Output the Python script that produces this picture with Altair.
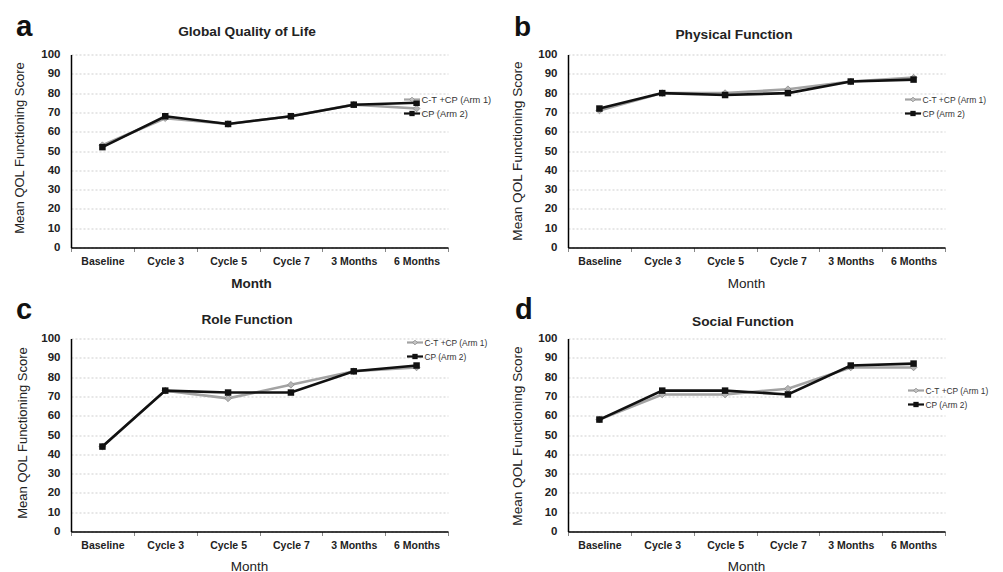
import altair as alt
import pandas as pd

# ---------------- data ----------------
months = ["Baseline", "Cycle 3", "Cycle 5", "Cycle 7", "3 Months", "6 Months"]
series_names = ["C-T +CP (Arm 1)", "CP (Arm 2)"]
panel_titles = ["Global Quality of Life", "Physical Function", "Role Function", "Social Function"]
panel_letters = ["a", "b", "c", "d"]
y_ticks = [0, 10, 20, 30, 40, 50, 60, 70, 80, 90, 100]

gql_arm1 = [53, 67, 64, 68, 74, 72]
gql_arm2 = [52, 68, 64, 68, 74, 75]
pf_arm1 = [71, 80, 80, 82, 86, 88]
pf_arm2 = [72, 80, 79, 80, 86, 87]
rf_arm1 = [44, 73, 69, 76, 83, 85]
rf_arm2 = [44, 73, 72, 72, 83, 86]
sf_arm1 = [58, 71, 71, 74, 85, 85]
sf_arm2 = [58, 73, 73, 71, 86, 87]

# ---------------- styling / layout ----------------
FONT = "Liberation Sans"
W, H = 377, 193
GREY = "#a3a3a3"
BLACK = "#111111"

layout = [
    dict(lx=-55, ly=-19, ls=29.5, tx=176, ty=-19, yx=-52, yy=93, ys=13.0,
         xx=180, xy=40, xw="bold", gx=333, gy=[45, 59], gs=9.3),
    dict(lx=-54, ly=-19, ls=28, tx=166, ty=-16, yx=-51, yy=96, ys=13.6,
         xx=178, xy=40, xw="normal", gx=337, gy=[45, 59], gs=8.5),
    dict(lx=-55, ly=-20, ls=29, tx=176, ty=-15, yx=-49, yy=94, ys=13.0,
         xx=178, xy=39, xw="normal", gx=336, gy=[4, 18], gs=8.4),
    dict(lx=-53, ly=-20, ls=29, tx=175, ty=-13, yx=-51, yy=97, ys=13.6,
         xx=178, xy=39, xw="normal", gx=340, gy=[52, 66], gs=8.4),
]


def one(text):
    return pd.DataFrame({"t": [text]})


def panel(i, arm1, arm2):
    L = layout[i]
    df = pd.DataFrame({
        "Month": months * 2,
        "Score": arm1 + arm2,
        "Series": [series_names[0]] * len(months) + [series_names[1]] * len(months),
    })
    x = alt.X(
        "Month:N",
        sort=months,
        scale=alt.Scale(type="band", domain=months, paddingInner=0, paddingOuter=0),
        axis=alt.Axis(
            title="Month", titleX=L["xx"], titleY=L["xy"], titleAlign="center",
            titleBaseline="alphabetic", titleFontWeight=L["xw"], titleFontSize=13.5,
            titleColor="#222", labelAngle=0, labelFontWeight="bold", labelFontSize=10.5,
            labelColor="#222", labelBaseline="alphabetic", labelPadding=13, tickSize=4,
            tickBand="extent", tickColor="#888", grid=False, domainColor="black",
            domainWidth=1.5,
        ),
    )
    y = alt.Y(
        "Score:Q",
        scale=alt.Scale(domain=[0, 100], nice=False),
        axis=alt.Axis(
            values=y_ticks, title="Mean QOL Functioning Score", titleX=L["yx"],
            titleY=L["yy"], titleAngle=270, titleAlign="center", titleBaseline="middle",
            titleFontWeight="normal", titleFontSize=L["ys"], titleColor="#222",
            labelFontWeight="bold", labelFontSize=11.5, labelColor="#222",
            labelPadding=11, ticks=False, grid=True, gridColor="#cfcfcf",
            gridDash=[2, 2], domainColor="black", domainWidth=1.5,
        ),
    )
    base = alt.Chart(df).encode(x=x, y=y)
    s1 = base.transform_filter(alt.datum.Series == series_names[0])
    s2 = base.transform_filter(alt.datum.Series == series_names[1])
    layers = [
        s1.mark_line(color=GREY, strokeWidth=2.6),
        s1.mark_point(shape="diamond", filled=True, size=45, color="#b5b5b5",
                      stroke="#8a8a8a", strokeWidth=0.8, opacity=1),
        s2.mark_line(color=BLACK, strokeWidth=2.6),
        s2.mark_point(shape="square", filled=True, size=42, color=BLACK, opacity=1),
        alt.Chart(one(panel_letters[i])).mark_text(
            font=FONT, fontSize=L["ls"], fontWeight="bold", align="left",
            baseline="alphabetic", color="#111").encode(
            x=alt.value(L["lx"]), y=alt.value(L["ly"]), text="t:N"),
        alt.Chart(one(panel_titles[i])).mark_text(
            font=FONT, fontSize=13.7, fontWeight="bold", align="center",
            baseline="alphabetic", color="#222").encode(
            x=alt.value(L["tx"]), y=alt.value(L["ty"]), text="t:N"),
    ]
    # legend
    for k, name in enumerate(series_names):
        gy = L["gy"][k]
        col = GREY if k == 0 else BLACK
        layers.append(alt.Chart(one(name)).mark_rule(color=col, strokeWidth=2.2).encode(
            x=alt.value(L["gx"]), x2=alt.value(L["gx"] + 16), y=alt.value(gy)))
        if k == 0:
            layers.append(alt.Chart(one(name)).mark_point(
                shape="diamond", filled=True, size=22, color="#c4c4c4", stroke="#8a8a8a",
                strokeWidth=0.8, opacity=1).encode(
                x=alt.value(L["gx"] + 8), y=alt.value(gy)))
        else:
            layers.append(alt.Chart(one(name)).mark_point(
                shape="square", filled=True, size=28, color=BLACK, opacity=1).encode(
                x=alt.value(L["gx"] + 8), y=alt.value(gy)))
        layers.append(alt.Chart(one(name)).mark_text(
            font=FONT, fontSize=L["gs"], align="left", baseline="middle",
            color="#333").encode(
            x=alt.value(L["gx"] + 17.5), y=alt.value(gy), text="t:N"))
    return alt.layer(*layers).properties(width=W, height=H)


charts = [
    panel(0, gql_arm1, gql_arm2),
    panel(1, pf_arm1, pf_arm2),
    panel(2, rf_arm1, rf_arm2),
    panel(3, sf_arm1, sf_arm2),
]

chart = alt.concat(
    *charts, columns=2, spacing={"row": 91, "column": 120}, bounds="flush"
).properties(
    padding={"left": 5, "top": 3.5, "right": 5, "bottom": 0},
    background="white",
).configure(font=FONT).configure_view(stroke=None)

chart.save("out.html", embed_options={"renderer": "svg", "actions": False})
